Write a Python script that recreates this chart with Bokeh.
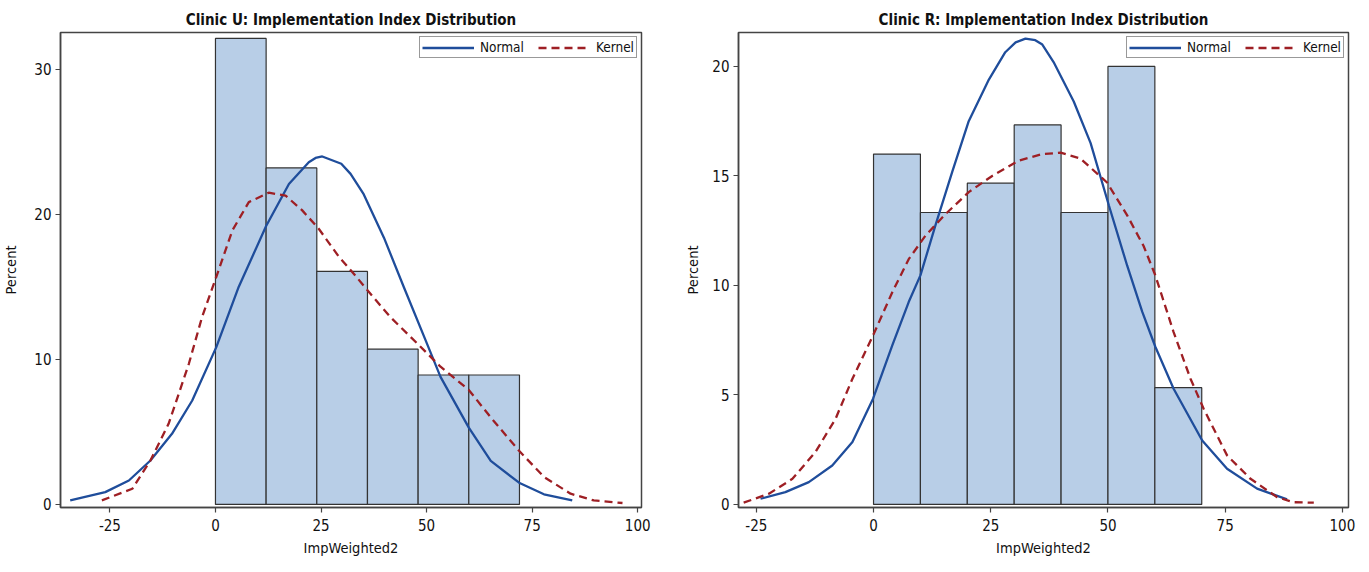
from bokeh.plotting import figure
from bokeh.layouts import row
from bokeh.models import Range1d, FixedTicker, Legend, LegendItem
from bokeh.embed import file_html
from bokeh.resources import INLINE

# ---------------- Clinic U ----------------
u_bin_left = [0, 12, 24, 36, 48, 60]
u_bin_right = [12, 24, 36, 48, 60, 72]
u_percent = [32.14, 23.21, 16.07, 10.71, 8.93, 8.93]

u_normal_x = [-34.4, -26.1, -20.5, -15.4, -10.3, -5.5, 0.2, 5.5, 12.0, 17.4, 22.1, 23.7, 25.3,
              29.8, 32.0, 35.1, 39.9, 44.6, 49.8, 53.3, 60.0, 65.2, 71.9, 77.8, 84.5]
u_normal_y = [0.28, 0.85, 1.65, 3.03, 4.87, 7.17, 10.85, 15.0, 19.2, 22.1, 23.6, 23.9, 24.0,
              23.5, 22.8, 21.4, 18.4, 15.0, 11.3, 8.8, 5.3, 3.0, 1.5, 0.7, 0.28]

u_kernel_x = [-26.9, -19.7, -15.4, -11.1, -6.3, -3.2, 0.2, 4.0, 7.9, 12.6, 16.6, 20.5, 24.5,
              29.2, 32.8, 35.9, 41.5, 47.8, 53.3, 60.0, 65.2, 71.9, 77.8, 84.1, 89.6, 96.4]
u_kernel_y = [0.28, 1.08, 3.03, 5.56, 9.7, 12.9, 15.7, 18.9, 20.85, 21.5, 21.3, 20.3, 19.0,
              17.1, 15.9, 14.8, 12.9, 11.1, 9.5, 7.9, 6.0, 3.7, 1.9, 0.74, 0.28, 0.1]

u_yticks = [0, 10, 20, 30]

# ---------------- Clinic R ----------------
r_bin_left = [0, 10, 20, 30, 40, 50, 60]
r_bin_right = [10, 20, 30, 40, 50, 60, 70]
r_percent = [16.0, 13.33, 14.67, 17.33, 13.33, 20.0, 5.33]

r_normal_x = [-24.1, -18.8, -13.8, -8.8, -4.5, -0.1, 4.0, 7.5, 10.0, 13.2, 16.8, 20.3, 24.6,
              28.1, 30.3, 32.4, 34.5, 36.0, 38.4, 42.7, 46.3, 50.2, 54.1, 57.3, 60.1, 64.0,
              70.1, 75.4, 81.8, 88.2]
r_normal_y = [0.26, 0.56, 1.02, 1.78, 2.85, 4.83, 7.26, 9.24, 10.46, 12.74, 15.2, 17.5, 19.4,
              20.65, 21.1, 21.27, 21.2, 21.0, 20.2, 18.4, 16.5, 13.65, 10.9, 8.8, 7.2, 5.28,
              2.92, 1.63, 0.72, 0.23]

r_kernel_x = [-27.7, -22.3, -17.3, -12.4, -8.1, -4.5, -0.1, 4.0, 7.5, 11.1, 15.4, 20.3, 25.3,
              31.0, 36.0, 39.9, 44.1, 49.8, 54.1, 57.6, 60.1, 64.0, 67.6, 70.4, 75.4, 80.4,
              86.1, 89.6, 93.9]
r_kernel_y = [0.08, 0.49, 1.17, 2.39, 3.91, 5.74, 7.72, 9.69, 11.2, 12.28, 13.27, 14.26, 15.0,
              15.7, 16.0, 16.06, 15.8, 14.7, 13.2, 11.8, 10.46, 7.87, 5.74, 4.37, 2.24, 1.17,
              0.33, 0.1, 0.08]

r_yticks = [0, 5, 10, 15, 20]

x_ticks = [-25, 0, 25, 50, 75, 100]
x_tick_labels = ["-25", "0", "25", "50", "75", "100"]

FONT = "DejaVu Sans Condensed"
BAR_FILL = "#b8cee7"
BAR_LINE = "#333333"
NORMAL_COLOR = "#1f4d9b"
KERNEL_COLOR = "#9e1f24"
AXIS_COLOR = "#444444"


def make_panel(title, left, right, top, nx, ny, kx, ky, yticks, xr, yr,
               width, border_left, border_right, ylabel_standoff):
    p = figure(width=width, height=572, output_backend="svg", toolbar_location=None,
               x_range=Range1d(*xr), y_range=Range1d(*yr),
               min_border_left=border_left, min_border_right=border_right,
               min_border_top=32, min_border_bottom=65)
    p.title.text = title
    p.title.text_font = FONT
    p.title.text_font_size = "15px"
    p.title.text_font_style = "bold"
    p.title.align = "center"
    p.title.standoff = 7
    p.title.text_color = "#111111"

    p.quad(left=left, right=right, bottom=0, top=top, fill_color=BAR_FILL,
           line_color=BAR_LINE, line_width=1.2)
    rn = p.line(nx, ny, line_color=NORMAL_COLOR, line_width=2.3)
    rk = p.line(kx, ky, line_color=KERNEL_COLOR, line_width=2.3, line_dash="8 5")

    legend = Legend(items=[LegendItem(label="Normal", renderers=[rn]),
                           LegendItem(label="Kernel", renderers=[rk])],
                    orientation="horizontal", location="top_right")
    legend.border_line_color = "#333333"
    legend.border_line_width = 1
    legend.padding = 2
    legend.margin = 4
    legend.spacing = 14
    legend.glyph_width = 52
    legend.glyph_height = 13
    legend.label_height = 13
    legend.label_standoff = 6
    legend.label_text_font = FONT
    legend.label_text_font_size = "13.5px"
    legend.label_text_color = "#111111"
    p.add_layout(legend)

    p.xgrid.visible = False
    p.ygrid.visible = False
    p.outline_line_color = AXIS_COLOR
    p.outline_line_width = 1.5
    p.background_fill_color = "white"

    p.xaxis.ticker = FixedTicker(ticks=x_ticks)
    p.xaxis.major_label_overrides = {t: s for t, s in zip(x_ticks, x_tick_labels)}
    p.yaxis.ticker = FixedTicker(ticks=yticks)
    p.yaxis.major_label_overrides = {t: str(t) for t in yticks}

    for ax in (p.xaxis[0], p.yaxis[0]):
        ax.axis_line_color = AXIS_COLOR
        ax.axis_line_width = 1.5
        ax.major_tick_line_color = AXIS_COLOR
        ax.major_tick_line_width = 1.2
        ax.major_tick_in = 0
        ax.major_tick_out = 5
        ax.minor_tick_line_color = None
        ax.major_label_text_font = FONT
        ax.major_label_text_font_size = "15px"
        ax.major_label_text_color = "#111111"
        ax.axis_label_text_font = FONT
        ax.axis_label_text_font_size = "14.5px"
        ax.axis_label_text_font_style = "normal"
        ax.axis_label_text_color = "#111111"

    p.xaxis.axis_label = "ImpWeighted2"
    p.xaxis.major_label_standoff = 6
    p.xaxis.axis_label_standoff = 6
    p.yaxis.axis_label = "Percent"
    p.yaxis.major_label_standoff = 4
    p.yaxis.axis_label_standoff = ylabel_standoff
    return p


p1 = make_panel("Clinic U: Implementation Index Distribution",
                u_bin_left, u_bin_right, u_percent,
                u_normal_x, u_normal_y, u_kernel_x, u_kernel_y, u_yticks,
                (-36.7, 100.9), (-0.21, 32.55), 680, 60, 39, 12)
p2 = make_panel("Clinic R: Implementation Index Distribution",
                r_bin_left, r_bin_right, r_percent,
                r_normal_x, r_normal_y, r_kernel_x, r_kernel_y, r_yticks,
                (-28.8, 101.3), (-0.14, 21.55), 689, 58, 21, 8)

layout = row(p1, p2)
open("out.html", "w").write(file_html(layout, INLINE))
